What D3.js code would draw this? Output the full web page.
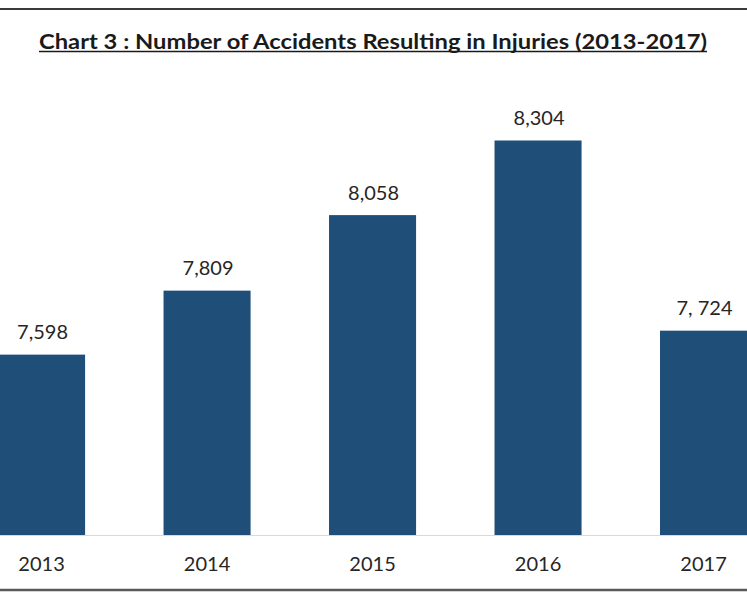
<!DOCTYPE html>
<html lang="en">
<head>
    <meta charset="UTF-8">
    <title>Chart 3 : Number of Accidents Resulting in Injuries (2013-2017)</title>
    <script src="https://d3js.org/d3.v7.min.js"></script>
    <style>
        body {
            margin: 0;
            padding: 0;
            background-color: #fff;
            overflow: hidden;
        }
        svg {
            display: block;
        }
    </style>
</head>
<body>
    <svg id="chart" width="747" height="598"></svg>

    <script>
        // Data
        const years = ['2013', '2014', '2015', '2016', '2017'];
        const accidents = [7598, 7809, 8058, 8304, 7677];
        const valueLabels = ['7,598', '7,809', '8,058', '8,304', '7, 724'];
        const titleText = 'Chart 3 : Number of Accidents Resulting in Injuries (2013-2017)';

        const width = 747;
        const height = 598;
        const baseline = 536;
        const font = 'Lato, "Open Sans", sans-serif';
        const textColor = '#262626';
        const barColor = '#1f4e79';

        const svg = d3.select('#chart');

        // Frame lines at top and bottom
        svg.append('line')
            .attr('x1', 0).attr('x2', width)
            .attr('y1', 9).attr('y2', 9)
            .attr('stroke', '#3a3a3a')
            .attr('stroke-width', 2);
        svg.append('line')
            .attr('x1', 0).attr('x2', width)
            .attr('y1', 590).attr('y2', 590)
            .attr('stroke', '#595959')
            .attr('stroke-width', 2.5);

        // Title, underlined
        const title = svg.append('text')
            .attr('x', 373)
            .attr('y', 48.5)
            .attr('text-anchor', 'middle')
            .attr('font-family', font)
            .attr('font-weight', 'bold')
            .attr('font-size', 21.5)
            .attr('fill', '#1a1a1a')
            .attr('textLength', 668)
            .attr('lengthAdjust', 'spacingAndGlyphs')
            .text(titleText);

        svg.append('line')
            .attr('x1', 39).attr('x2', 707)
            .attr('y1', 51.5).attr('y2', 51.5)
            .attr('stroke', '#1a1a1a')
            .attr('stroke-width', 1.5);

        // Scales
        const x = d3.scaleBand()
            .domain(years)
            .range([-80.4, 825.5])
            .padding(0.474);

        const y = d3.scaleLinear()
            .domain([7000, 8304])
            .range([baseline, 140.5]);

        // Bars
        svg.selectAll('.bar')
            .data(years)
            .enter()
            .append('rect')
            .attr('class', 'bar')
            .attr('x', d => x(d))
            .attr('y', (d, i) => y(accidents[i]))
            .attr('width', x.bandwidth())
            .attr('height', (d, i) => baseline - y(accidents[i]))
            .attr('fill', barColor);

        // Category axis line
        svg.append('line')
            .attr('x1', 0).attr('x2', width)
            .attr('y1', baseline - 0.5).attr('y2', baseline - 0.5)
            .attr('stroke', '#d9d9d9')
            .attr('stroke-width', 1);

        // Value labels
        svg.selectAll('.value')
            .data(years)
            .enter()
            .append('text')
            .attr('class', 'value')
            .attr('x', d => x(d) + x.bandwidth() / 2 + 1)
            .attr('y', (d, i) => y(accidents[i]) - 15.5)
            .attr('text-anchor', 'middle')
            .attr('font-family', font)
            .attr('font-size', 20)
            .attr('fill', textColor)
            .text((d, i) => valueLabels[i]);

        // Year labels
        svg.selectAll('.year')
            .data(years)
            .enter()
            .append('text')
            .attr('class', 'year')
            .attr('x', d => x(d) + x.bandwidth() / 2)
            .attr('y', 571)
            .attr('text-anchor', 'middle')
            .attr('font-family', font)
            .attr('font-size', 20)
            .attr('fill', textColor)
            .text(d => d);
    </script>
</body>
</html>
